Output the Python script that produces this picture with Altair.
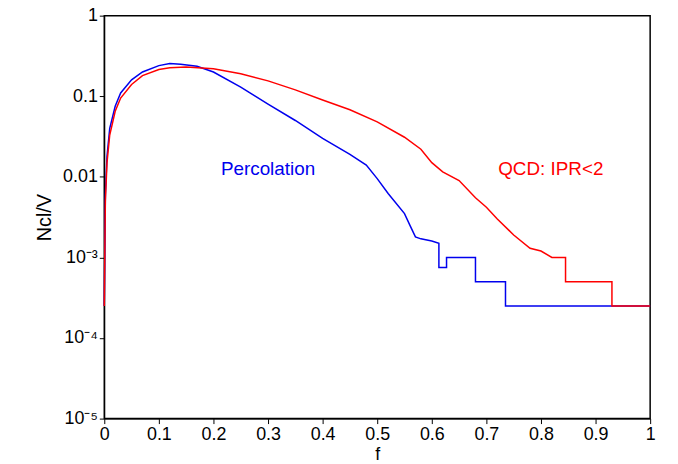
import altair as alt
import pandas as pd

# blue: percolation
perc_f = [0.0, 0.002, 0.005, 0.01, 0.02, 0.03, 0.05, 0.07, 0.1, 0.12, 0.14, 0.17, 0.2, 0.25, 0.3, 0.35, 0.4,
          0.45, 0.48, 0.5, 0.52, 0.55, 0.56, 0.57, 0.58, 0.6, 0.613, 0.613, 0.62, 0.62, 0.627, 0.627,
          0.68, 0.68, 0.735, 0.735, 1.0]
perc_n = [0.00025, 0.006, 0.018, 0.04, 0.075, 0.11, 0.16, 0.2, 0.24, 0.255, 0.25, 0.235, 0.2, 0.13, 0.08,
          0.05, 0.03, 0.019, 0.014, 0.0095, 0.0062, 0.0035, 0.0025, 0.0018, 0.0017, 0.0016, 0.0015,
          0.00075, 0.00075, 0.00075, 0.00075, 0.001, 0.001, 0.0005, 0.0005, 0.00025, 0.00025]

# red: QCD IPR<2
qcd_f = [0.0, 0.002, 0.005, 0.01, 0.02, 0.03, 0.05, 0.07, 0.1, 0.12, 0.15, 0.2, 0.25, 0.3, 0.35, 0.4, 0.45,
         0.5, 0.55, 0.58, 0.6, 0.62, 0.65, 0.68, 0.7, 0.72, 0.75, 0.78, 0.8, 0.82, 0.845, 0.845, 0.93, 0.93, 1.0]
qcd_n = [0.00025, 0.005, 0.015, 0.033, 0.065, 0.095, 0.14, 0.18, 0.215, 0.225, 0.23, 0.22, 0.19, 0.155,
         0.12, 0.09, 0.068, 0.048, 0.031, 0.022, 0.015, 0.0115, 0.009, 0.0055, 0.0042, 0.003, 0.0019,
         0.0013, 0.0012, 0.001, 0.001, 0.0005, 0.0005, 0.00025, 0.00025]

df = pd.concat([
    pd.DataFrame({"f": perc_f, "n": perc_n, "s": "perc", "o": range(len(perc_f))}),
    pd.DataFrame({"f": qcd_f, "n": qcd_n, "s": "qcd", "o": range(len(qcd_f))}),
])

font = "Liberation Sans"
ylab = ("datum.value == 1 ? '1' : datum.value == 0.1 ? '0.1' : datum.value == 0.01 ? '0.01' : "
        "datum.value == 0.001 ? '10⁻³' : datum.value == 0.0001 ? '10⁻⁴' : datum.value == 0.00001 ? '10⁻⁵' : ''")

xs = alt.Scale(domain=[0, 1], nice=False)
ys = alt.Scale(type="log", domain=[1e-5, 1], nice=False)

lines = alt.Chart(df).mark_line(strokeWidth=1.5).encode(
    x=alt.X("f:Q", scale=xs, title="f",
            axis=alt.Axis(values=[i / 10 for i in range(11)], grid=False, labelFontSize=18,
                          titleFontSize=18, labelFont=font, titleFont=font, labelColor="black",
                          titleColor="black", domainColor="black", tickColor="black", titleFontWeight="normal",
                          labelFlush=False, titlePadding=2,
                          labelExpr="datum.value == 0 ? '0' : datum.value == 1 ? '1' : format(datum.value, '.1f')")),
    y=alt.Y("n:Q", scale=ys, title="Ncl/V",
            axis=alt.Axis(values=[1e-5, 1e-4, 1e-3, 1e-2, 1e-1, 1], grid=False, labelFontSize=18,
                          titleFontSize=20, labelFont=font, titleFont=font, labelColor="black",
                          titleColor="black", domainColor="black", tickColor="black", titleFontWeight="normal",
                          labelExpr=ylab, titlePadding=8, labelFlush=False)),
    color=alt.Color("s:N", scale=alt.Scale(domain=["perc", "qcd"], range=["#0000ee", "#ff0000"]), legend=None),
    order="o:Q",
)

labels = pd.DataFrame({"f": [0.3, 0.818], "n": [0.0126, 0.0126], "t": ["Percolation", "QCD: IPR<2"],
                       "c": ["#0000ee", "#ff0000"]})
text = alt.Chart(labels).mark_text(fontSize=19, font=font).encode(
    x=alt.X("f:Q", scale=xs), y=alt.Y("n:Q", scale=ys), text="t:N", color=alt.Color("c:N", scale=None))

chart = (lines + text).properties(width=550, height=406, autosize="none",
                                  padding={"left": 97, "top": 6, "right": 20, "bottom": 40}
                                  ).configure_view(stroke="black", strokeWidth=1.5)
chart.save("out.html", embed_options={"renderer": "svg", "actions": False})
